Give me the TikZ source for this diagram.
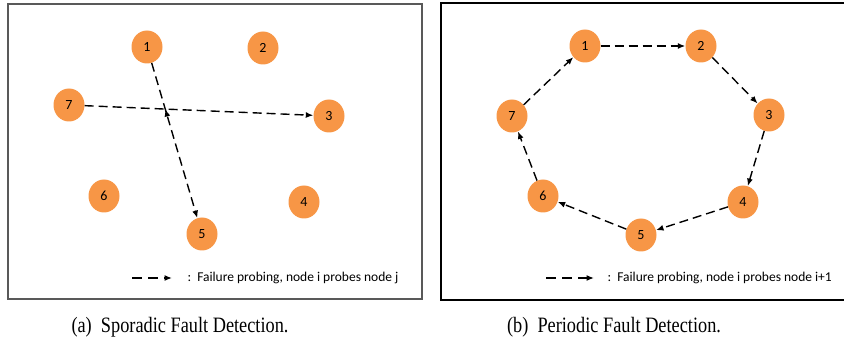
\documentclass[tikz,border=0pt]{standalone}
\usepackage{fontspec}
\setmainfont{Carlito}
\newfontfamily\capfont{Liberation Serif}
\usetikzlibrary{arrows.meta,shapes.geometric,calc}
\definecolor{peerorange}{RGB}{247,150,70}
\begin{document}
\begin{tikzpicture}[x=1pt, y=-1pt, >={Latex[length=7.5pt,width=6pt]},
  peer/.style={ellipse, fill=peerorange, minimum width=31pt, minimum height=33pt,
    inner sep=0pt, font=\fontsize{14}{16}\selectfont},
  probe/.style={->, line width=1.4pt, dash pattern=on 9pt off 5pt},
  keyline/.style={->, line width=1.4pt, dash pattern=on 10pt off 6pt},
  legend/.style={anchor=west, font=\fontsize{13.5}{16}\selectfont},
  caption/.style={yscale=1.2, transform shape, font=\capfont\fontsize{18.3}{20}\selectfont}]
\useasboundingbox (0,0) rectangle (844,339);
% sporadic
\draw[line width=1.4pt, black!65] (8,4) rectangle (422,299);
\node[peer] (l1) at (147,47) {1};
\node[peer] (l2) at (263,48) {2};
\node[peer] (l3) at (329,116) {3};
\node[peer] (l4) at (304,202) {4};
\node[peer] (l5) at (202,234) {5};
\node[peer] (l6) at (104,196) {6};
\node[peer] (l7) at (69,105) {7};
\draw[probe] (l1) -- (l5);
\draw[probe] (l7) -- (l3);
\coordinate (cross) at (intersection of l1--l5 and l7--l3);
\draw[->, line width=1.4pt] ($(cross)!6pt!(l5)$) -- (cross);
\coordinate (ka) at (132,278);
\coordinate (kb) at (172,278);
\draw[keyline] (ka) -- (kb);
\node[legend] (lkey) at (184,278) {:~~Failure probing, node i probes node j};
\node[caption] (lcap) at (180,327) {(a)~~Sporadic Fault Detection.};
% periodic
\draw[line width=1.5pt] (845,3) -| (441,300) -- (845,300);
\node[peer] (r1) at (585,46) {1};
\node[peer] (r2) at (701,46) {2};
\node[peer] (r3) at (769,115) {3};
\node[peer] (r4) at (743,202) {4};
\node[peer] (r5) at (641,235) {5};
\node[peer] (r6) at (543,196) {6};
\node[peer] (r7) at (512,116) {7};
\draw[probe] (r1) -- (r2);
\draw[probe] (r2) -- (r3);
\draw[probe] (r3) -- (r4);
\draw[probe] (r4) -- (r5);
\draw[probe] (r5) -- (r6);
\draw[probe] (r6) -- (r7);
\draw[probe] (r7) -- (r1);
\coordinate (kc) at (546,278);
\coordinate (kd) at (594,278);
\draw[keyline] (kc) -- (kd);
\node[legend] (rkey) at (604,278) {:~~Failure probing, node i probes node i+1};
\node[caption] (rcap) at (614,327) {(b)~~Periodic Fault Detection.};
\end{tikzpicture}
\end{document}
